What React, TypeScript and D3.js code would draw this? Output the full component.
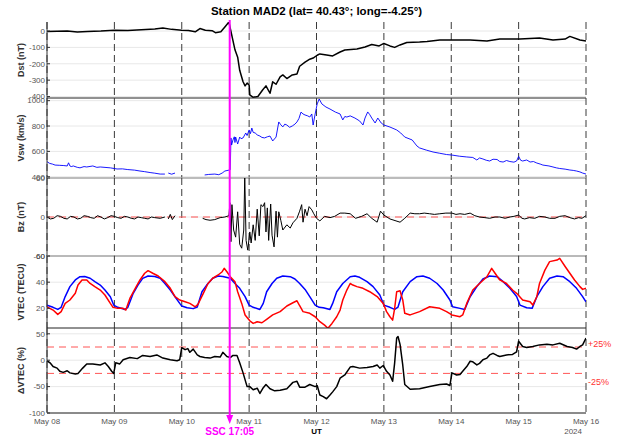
import React from "react";
import * as d3 from "d3";

const DAY_LABELS = ["May 08", "May 09", "May 10", "May 11", "May 12", "May 13", "May 14", "May 15", "May 16"];

const DST_TICKS = [-400, -300, -200, -100, 0];
const VSW_TICKS = [400, 600, 800, 1000];
const BZ_TICKS = [-60, 0, 60];
const VTEC_TICKS = [20, 40, 60];
const DVTEC_TICKS = [-100, -50, 0, 50];

const SSC_DAY = 2 + (17 + 5 / 60) / 24;

const DST: [number, number][] = [
  [0, -3], [0.15, -2], [0.3, 0], [0.45, -6], [0.6, -3], [0.8, 0], [1.0, 5], [1.2, 3], [1.4, 8], [1.6, 12],
  [1.72, 18], [1.85, 10], [2.0, 5], [2.1, 3], [2.2, -5], [2.27, 15], [2.35, 5], [2.45, 2], [2.5, -10],
  [2.58, -5], [2.64, 25], [2.70, 55], [2.79, -115], [2.83, -160], [2.86, -240], [2.91, -310], [2.94, -335],
  [2.97, -318], [3.0, -330], [3.01, -390], [3.06, -405], [3.13, -400], [3.2, -360], [3.25, -335], [3.31, -380],
  [3.35, -310], [3.40, -325], [3.46, -280], [3.50, -268], [3.56, -290], [3.64, -268], [3.71, -262], [3.75, -215],
  [3.83, -190], [3.90, -172], [3.95, -165], [4.01, -148], [4.05, -140], [4.15, -146], [4.24, -152], [4.35, -128],
  [4.42, -116], [4.60, -110], [4.72, -98], [4.82, -82], [4.93, -91], [5.0, -76], [5.09, -91], [5.16, -100],
  [5.24, -85], [5.34, -70], [5.53, -67], [5.64, -64], [5.83, -55], [6.01, -55], [6.28, -55], [6.53, -61],
  [6.72, -49], [7.02, -49], [7.31, -43], [7.51, -55], [7.69, -49], [7.76, -33], [7.91, -55], [8.0, -61],
];

const VSW: [number, number][] = [
  [0, 519], [0.04, 505], [0.08, 500], [0.12, 492], [0.19, 490], [0.25, 488], [0.30, 485], [0.32, 510], [0.34, 485],
  [0.36, 480], [0.39, 485], [0.45, 474], [0.49, 470], [0.55, 480], [0.59, 477], [0.68, 485], [0.74, 474], [0.79, 477],
  [0.94, 470], [1.04, 461], [1.12, 462], [1.19, 457], [1.3, 452], [1.38, 445], [1.45, 440], [1.53, 433], [1.6, 428],
  [1.68, 421], [1.75, 421], [1.77, NaN], [1.80, 429], [1.85, 420], [1.90, 429], [1.92, NaN], [2.34, 414], [2.40, 418],
  [2.49, 421], [2.55, 416], [2.60, 429], [2.64, 445], [2.70, 452], [2.72, 455], [2.73, 706], [2.74, 650], [2.76, 690],
  [2.78, 715], [2.79, 670], [2.80, 713], [2.83, 658], [2.86, 713], [2.88, 700], [2.91, 706], [2.95, 745], [2.97, 725],
  [3.0, 769], [3.02, 740], [3.04, 784], [3.06, 750], [3.09, 745], [3.12, 730], [3.16, 721], [3.19, 710], [3.23, 706],
  [3.27, 715], [3.31, 721], [3.35, 682], [3.40, 713], [3.44, 832], [3.47, 810], [3.50, 793], [3.53, 815], [3.56, 808],
  [3.60, 790], [3.64, 800], [3.68, 815], [3.71, 832], [3.74, 860], [3.77, 910], [3.80, 895], [3.83, 887], [3.87, 880],
  [3.90, 871], [3.93, 895], [3.95, 808], [3.98, 895], [4.01, 974], [4.04, 1013], [4.08, 974], [4.14, 950], [4.20, 934],
  [4.28, 910], [4.35, 895], [4.39, 848], [4.42, 875], [4.45, 871], [4.50, 880], [4.57, 863], [4.64, 840], [4.69, 808],
  [4.72, 863], [4.76, 911], [4.79, 890], [4.82, 863], [4.87, 824], [4.91, 863], [4.96, 824], [5.0, 808], [5.09, 792],
  [5.19, 769], [5.25, 745], [5.31, 713], [5.42, 690], [5.49, 643], [5.53, 627], [5.63, 610], [5.73, 595], [5.83, 585],
  [5.93, 575], [6.01, 571], [6.12, 562], [6.23, 556], [6.32, 552], [6.38, 532], [6.42, 548], [6.47, 540], [6.52, 530],
  [6.57, 524], [6.62, 538], [6.68, 536], [6.72, 520], [6.77, 516], [6.82, 528], [6.87, 520], [6.93, 515], [6.97, 524],
  [7.0, 560], [7.03, 530], [7.06, 524], [7.12, 532], [7.17, 516], [7.22, 520], [7.27, 508], [7.32, 500], [7.36, 492],
  [7.45, 485], [7.51, 477], [7.56, 470], [7.61, 465], [7.69, 460], [7.76, 453], [7.81, 450], [7.86, 445], [7.91, 438],
  [7.95, 429], [8.0, 421],
];

const BZ: [number, number][] = [
  [0, 0], [0.05, -3], [0.1, -2], [0.15, 2], [0.2, 1], [0.25, -2], [0.3, -3], [0.35, 1], [0.4, 0], [0.45, -3], [0.5, -2],
  [0.55, 2], [0.6, 1], [0.65, -1], [0.7, -2], [0.75, 2], [0.8, 0], [0.85, -3], [0.9, -1], [0.95, 2], [1.0, 1], [1.05, -1],
  [1.1, -2], [1.15, 1], [1.2, 0], [1.25, -2], [1.3, -3], [1.35, 0], [1.4, -1], [1.45, -2], [1.5, -3], [1.55, 0], [1.6, -1],
  [1.68, -2], [1.75, 0], [1.77, NaN], [1.80, -3], [1.83, 4], [1.86, -4], [1.90, 2], [1.92, NaN], [2.31, -2], [2.36, -4],
  [2.42, -5], [2.49, -4], [2.57, -1], [2.64, 0], [2.70, 2], [2.715, 22], [2.73, -38], [2.745, 19], [2.77, -20],
  [2.80, -31], [2.83, 8], [2.86, -42], [2.89, -48], [2.92, -20], [2.935, 62], [2.955, -36], [2.98, -51], [3.01, -23],
  [3.03, -40], [3.06, -12], [3.09, -36], [3.12, 12], [3.15, -29], [3.175, 19], [3.205, 16], [3.23, 22], [3.25, -23],
  [3.27, 14], [3.29, -36], [3.32, 20], [3.34, -28], [3.37, -46], [3.40, 9], [3.42, -31], [3.44, 8], [3.47, -5],
  [3.50, -20], [3.56, -12], [3.61, -17], [3.65, -9], [3.71, -2], [3.75, 9], [3.78, 19], [3.80, -8], [3.83, 12],
  [3.86, 2], [3.89, 16], [3.93, 11], [3.96, 5], [4.0, -2], [4.05, -6], [4.12, 1], [4.2, -1], [4.27, 1], [4.35, 6],
  [4.42, 6], [4.50, 5], [4.58, -2], [4.67, 1], [4.75, 5], [4.82, -2], [4.90, -8], [4.95, 9], [5.0, 3], [5.09, -3],
  [5.18, -6], [5.24, -8], [5.31, -2], [5.39, 6], [5.46, 5], [5.53, 5], [5.6, 6], [5.68, 5], [5.75, 4], [5.83, 5],
  [5.92, 6], [6.01, 6], [6.07, 4], [6.13, 5], [6.2, 4], [6.28, 6], [6.35, 2], [6.42, 0], [6.5, -1], [6.57, -2],
  [6.65, 0], [6.72, 0], [6.8, -2], [6.87, 0], [6.93, 1], [7.0, 3], [7.05, -2], [7.09, -3], [7.16, -1], [7.24, -2],
  [7.31, 1], [7.39, 0], [7.46, -2], [7.54, -2], [7.61, 1], [7.69, 2], [7.76, -1], [7.83, -3], [7.89, -1], [7.94, -2],
  [8.0, 2],
];

const VTEC_MODEL: [number, number][] = [
  [0, 22.5], [0.09, 20.8], [0.16, 19.2], [0.21, 20.8], [0.27, 29], [0.34, 36.6], [0.42, 41.7], [0.49, 44.2],
  [0.56, 44.4], [0.64, 43], [0.71, 40.4], [0.79, 37.8], [0.86, 34], [0.94, 28.9], [0.99, 22.5], [1.05, 20.8],
  [1.16, 19.2], [1.20, 20.8], [1.28, 31.5], [1.35, 37.8], [1.42, 42.9], [1.50, 44.7], [1.60, 44.4], [1.68, 43],
  [1.75, 39], [1.83, 34], [1.90, 28.9], [1.97, 23.8], [2.0, 21.8], [2.08, 20.5], [2.17, 19.8], [2.23, 21],
  [2.30, 32.7], [2.37, 37.8], [2.46, 43], [2.54, 44.7], [2.61, 44.4], [2.72, 43], [2.79, 39], [2.86, 35.3],
  [2.94, 29], [3.0, 22.5], [3.06, 20.8], [3.16, 19.2], [3.21, 23.8], [3.26, 32.7], [3.34, 39], [3.41, 43],
  [3.50, 44.7], [3.61, 44.2], [3.68, 42.4], [3.75, 39], [3.83, 34.5], [3.90, 29], [3.98, 22.5], [4.04, 20.8],
  [4.10, 20.5], [4.20, 19.2], [4.24, 23.8], [4.30, 32.7], [4.39, 39], [4.50, 44.2], [4.57, 44.7], [4.64, 43.7],
  [4.75, 40.4], [4.84, 36.6], [4.94, 30.2], [5.0, 22.5], [5.09, 20.8], [5.16, 19.2], [5.21, 21], [5.28, 32.7],
  [5.39, 40.4], [5.49, 44.2], [5.58, 44.7], [5.68, 43], [5.79, 39], [5.88, 34], [5.98, 26.4], [6.02, 21.2],
  [6.13, 20], [6.20, 19.2], [6.28, 28.9], [6.38, 36.6], [6.47, 42.4], [6.57, 44.7], [6.68, 44.2], [6.77, 40.4],
  [6.87, 35.3], [6.97, 29], [7.02, 22.5], [7.12, 20.5], [7.20, 20], [7.27, 28.9], [7.36, 36.6], [7.46, 43],
  [7.57, 44.7], [7.66, 44.2], [7.76, 40.4], [7.86, 35.3], [7.95, 29], [8.0, 25],
];

const VTEC_OBS: [number, number][] = [
  [0, 21.2], [0.09, 18.7], [0.16, 15.4], [0.21, 17.5], [0.27, 23.8], [0.34, 26.4], [0.42, 31.5], [0.46, 37.8],
  [0.52, 41.7], [0.59, 41.7], [0.64, 39], [0.71, 36.6], [0.79, 34], [0.86, 30.2], [0.94, 23.8], [0.98, 20.8],
  [1.05, 20], [1.13, 20], [1.17, 18.7], [1.23, 27.6], [1.31, 35.3], [1.38, 41.7], [1.45, 46.8], [1.50, 48.8],
  [1.57, 46.8], [1.65, 44.7], [1.75, 40.4], [1.83, 35.3], [1.90, 29], [1.97, 26.4], [2.05, 25], [2.12, 23.8],
  [2.20, 21.2], [2.24, 23], [2.32, 31.5], [2.39, 39], [2.46, 43], [2.54, 45.5], [2.60, 48], [2.63, 50.6],
  [2.67, 48], [2.72, 44.2], [2.79, 40.4], [2.83, 32.7], [2.89, 23.8], [2.94, 14.9], [3.01, 10.5], [3.06, 8.5],
  [3.12, 9.8], [3.19, 9], [3.26, 11.6], [3.35, 15], [3.46, 17.5], [3.56, 21.8], [3.65, 24.3], [3.71, 25.8],
  [3.75, 22], [3.80, 17.5], [3.90, 16.2], [3.98, 13.6], [4.05, 9.8], [4.12, 7.2], [4.17, 4.8], [4.23, 8.5],
  [4.30, 13.6], [4.35, 18.7], [4.39, 26.4], [4.45, 34], [4.50, 39], [4.54, 37.8], [4.60, 36.6], [4.69, 35.3],
  [4.79, 32.7], [4.90, 29], [4.99, 23.8], [5.04, 17.5], [5.09, 13.6], [5.13, 11], [5.16, 20], [5.19, 32.7],
  [5.24, 33.4], [5.28, 26.4], [5.31, 16.2], [5.39, 15], [5.53, 17.5], [5.68, 21.2], [5.83, 20], [5.93, 17.5],
  [6.01, 15], [6.13, 13.6], [6.17, 15], [6.23, 23.8], [6.32, 34], [6.42, 39], [6.53, 44.2], [6.60, 50.6],
  [6.65, 46.8], [6.72, 41.7], [6.82, 39], [6.91, 34], [6.97, 31.5], [7.06, 26.4], [7.17, 25], [7.21, 22.5],
  [7.27, 28.9], [7.31, 39], [7.39, 49.2], [7.46, 55.7], [7.57, 56.9], [7.61, 58.2], [7.69, 52], [7.76, 46.8],
  [7.83, 41.7], [7.91, 36.6], [7.95, 34.5], [8.0, 35.3],
];

const DVTEC: [number, number][] = [
  [0, -1], [0.045, -5], [0.09, -12], [0.15, -15], [0.19, -21], [0.24, -23], [0.30, -20], [0.34, -24], [0.42, -26],
  [0.46, -25], [0.53, -15], [0.59, -7], [0.68, -7], [0.79, -9], [0.86, -5], [0.91, -12], [0.96, -21], [0.99, -25],
  [1.02, -5], [1.08, -7], [1.13, 1], [1.23, 5], [1.34, 3], [1.42, 9], [1.53, 7], [1.63, 10], [1.72, 4], [1.83, 1],
  [1.93, -1], [1.97, 1], [2.0, 24], [2.05, 20], [2.09, 22], [2.12, 15], [2.17, 21], [2.23, 10], [2.27, 7],
  [2.34, 5], [2.42, 4], [2.49, 7], [2.57, 6], [2.61, 15], [2.67, 7], [2.72, 5], [2.76, 9], [2.82, 9], [2.86, -5],
  [2.91, -24], [2.97, -50], [3.01, -50], [3.06, -56], [3.12, -53], [3.16, -63], [3.21, -52], [3.25, -46],
  [3.31, -54], [3.38, -58], [3.46, -57], [3.56, -54], [3.65, -42], [3.71, -40], [3.75, -51], [3.83, -51],
  [3.90, -46], [3.98, -50], [4.01, -48], [4.05, -66], [4.10, -69], [4.15, -73], [4.20, -66], [4.24, -60],
  [4.30, -50], [4.35, -34], [4.42, -28], [4.50, -13], [4.54, -12], [4.64, -15], [4.75, -14], [4.84, -12],
  [4.90, -9], [4.94, -15], [4.99, -10], [5.04, -21], [5.09, -28], [5.13, -40], [5.16, -5], [5.19, 42], [5.21, 45],
  [5.24, 30], [5.28, -9], [5.31, -46], [5.39, -55], [5.53, -54], [5.68, -50], [5.83, -46], [5.93, -45], [5.98, -48],
  [6.01, -24], [6.08, -28], [6.13, -27], [6.17, -21], [6.23, -12], [6.28, -2], [6.32, -3], [6.38, -9], [6.42, -6],
  [6.47, 1], [6.53, 4], [6.57, 10], [6.62, 13], [6.68, 9], [6.72, 7], [6.82, 10], [6.91, 11], [6.97, 16], [7.0, 36],
  [7.06, 26], [7.12, 24], [7.21, 26], [7.31, 29], [7.42, 30], [7.51, 29], [7.61, 32], [7.72, 26], [7.80, 24],
  [7.86, 21], [7.91, 26], [7.95, 29], [8.0, 42],
];

const FONT = "'Liberation Sans', Arial, Helvetica, sans-serif";
const X0 = 47;
const X1 = 586;

type Series = { data: [number, number][]; color: string; width: number };
type Panel = {
  key: string;
  label: string;
  top: number;
  bottom: number;
  domain: [number, number];
  ticks: number[];
  series: Series[];
  refs?: number[];
};

const PANELS: Panel[] = [
  { key: "dst", label: "Dst (nT)", top: 22, bottom: 98, domain: [-409, 55], ticks: DST_TICKS,
    series: [{ data: DST, color: "#000", width: 1.5 }] },
  { key: "vsw", label: "Vsw (km/s)", top: 98, bottom: 178, domain: [390, 1021], ticks: VSW_TICKS,
    series: [{ data: VSW, color: "#0000ff", width: 0.9 }] },
  { key: "bz", label: "Bz (nT)", top: 178, bottom: 256, domain: [-60, 60], ticks: BZ_TICKS,
    series: [{ data: BZ, color: "#000", width: 1 }], refs: [0] },
  { key: "vtec", label: "VTEC (TECU)", top: 256, bottom: 328, domain: [5, 60], ticks: VTEC_TICKS,
    series: [{ data: VTEC_MODEL, color: "#0000ff", width: 1.5 }, { data: VTEC_OBS, color: "#ff0000", width: 1.5 }] },
  { key: "dvtec", label: "\u0394VTEC (%)", top: 328, bottom: 413, domain: [-100, 61], ticks: DVTEC_TICKS,
    series: [{ data: DVTEC, color: "#000", width: 1.5 }], refs: [25, -25] },
];

export default function App() {
  const x = d3.scaleLinear().domain([0, 8]).range([X0, X1]);
  const days = d3.range(0, 9);
  const sscX = x(SSC_DAY);
  const last = PANELS[PANELS.length - 1];

  return (
    <svg width={620} height={439} style={{ position: "absolute", left: 0, top: 0, background: "#fff" }}
      fontFamily={FONT}>
      <defs>
        {PANELS.map((p) => (
          <clipPath id={`clip-${p.key}`} key={p.key}>
            <rect x={X0} y={p.top} width={X1 - X0} height={p.bottom - p.top} />
          </clipPath>
        ))}
      </defs>
      <text x={(X0 + X1) / 2} y={15} textAnchor="middle" fontSize={11.5} fontWeight="bold" fill="#000">
        Station MAD2 (lat= 40.43°; long=-4.25°)
      </text>
      {PANELS.map((p) => {
        const y = d3.scaleLinear().domain(p.domain).range([p.bottom, p.top]);
        const line = d3.line<[number, number]>()
          .defined((d) => !isNaN(d[1]))
          .x((d) => x(d[0]))
          .y((d) => y(d[1]));
        return (
          <g key={p.key}>
            {p.ticks.map((t) => (
              <line key={`g${t}`} x1={X0} x2={X1} y1={y(t)} y2={y(t)} stroke="#e8e8e8" strokeWidth={1} />
            ))}
            {days.map((d) => (
              <line key={`d${d}`} x1={x(d)} x2={x(d)} y1={p.top} y2={p.bottom} stroke="#3a3a3a"
                strokeWidth={1} strokeDasharray="7,4" />
            ))}
            {(p.refs || []).map((r) => (
              <line key={`r${r}`} x1={X0} x2={X1} y1={y(r)} y2={y(r)} stroke="#ff5555" strokeWidth={1}
                strokeDasharray="7,5" />
            ))}
            <g clipPath={`url(#clip-${p.key})`}>
              {p.series.map((s, i) => (
                <path key={i} d={line(s.data) || ""} fill="none" stroke={s.color} strokeWidth={s.width}
                  strokeLinejoin="round" />
              ))}
            </g>
            <line x1={X0} x2={X0} y1={p.top} y2={p.bottom} stroke="#333" strokeWidth={1} />
            <line x1={X0} x2={X1} y1={p.bottom} y2={p.bottom} stroke="#222" strokeWidth={1} />
            {p.ticks.map((t) => (
              <g key={`t${t}`}>
                <line x1={X0} x2={X0 + 3} y1={y(t)} y2={y(t)} stroke="#333" strokeWidth={1} />
                <text x={X0 - 2} y={y(t)} dy="0.35em" textAnchor="end" fontSize={8} fill="#555">{t}</text>
              </g>
            ))}
            <text transform={`translate(24,${(p.top + p.bottom) / 2}) rotate(-90)`} textAnchor="middle"
              fontSize={9} fontWeight="bold" fill="#333">{p.label}</text>
          </g>
        );
      })}
      {days.map((d) => (
        <text key={`xl${d}`} x={x(d)} y={424} textAnchor="middle" fontSize={8} fill="#555">{DAY_LABELS[d]}</text>
      ))}
      <text x={x(4)} y={434} textAnchor="middle" fontSize={8} fontWeight="bold" fill="#000">UT</text>
      <text x={x(8) - 4} y={434} textAnchor="end" fontSize={8} fill="#555">2024</text>
      {(() => {
        const y = d3.scaleLinear().domain(last.domain).range([last.bottom, last.top]);
        return (
          <g>
            <text x={X1 + 2} y={y(25) - 3} dy="0.35em" fontSize={9} fill="#ff3333">+25%</text>
            <text x={X1 + 2} y={y(-25) + 8} dy="0.35em" fontSize={9} fill="#ff3333">-25%</text>
          </g>
        );
      })()}
      <line x1={sscX} x2={sscX} y1={20} y2={416} stroke="#ff00ff" strokeWidth={2} />
      <path d={`M${sscX - 3.5},${415} L${sscX + 3.5},${415} L${sscX},${424} Z`} fill="#ff00ff" />
      <text x={sscX} y={435} textAnchor="middle" fontSize={10} fontWeight="bold" fill="#ff00ff">SSC 17:05</text>
    </svg>
  );
}
